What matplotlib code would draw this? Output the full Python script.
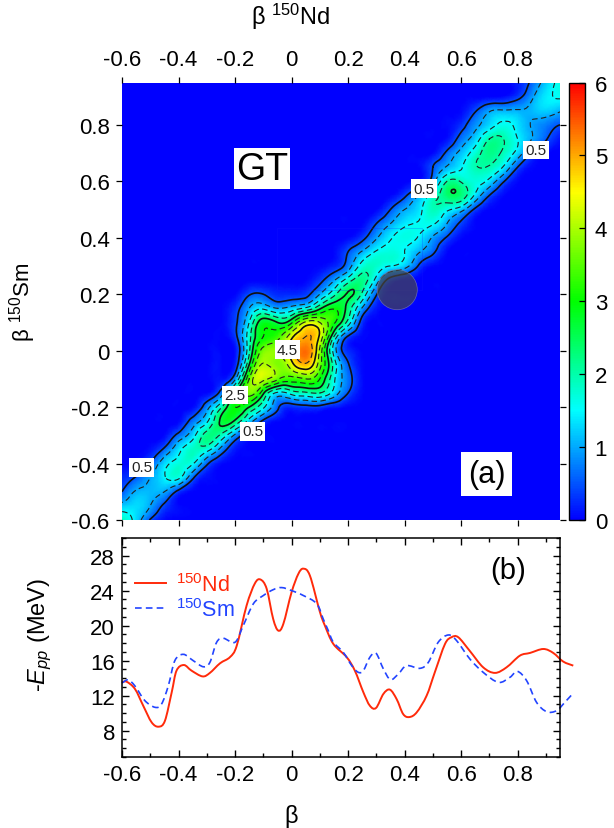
import numpy as np
import matplotlib
matplotlib.use("Agg")
import matplotlib.pyplot as plt
import matplotlib.tri as mtri
from matplotlib.colors import LinearSegmentedColormap
from matplotlib.patches import Circle, Rectangle, PathPatch
from matplotlib.path import Path
from matplotlib.cm import ScalarMappable
from matplotlib.ticker import MultipleLocator

plt.rcParams["font.family"] = ["Liberation Sans", "DejaVu Sans"]
plt.rcParams["mathtext.fontset"] = "custom"
plt.rcParams["mathtext.rm"] = "Liberation Sans"
plt.rcParams["mathtext.it"] = "Liberation Sans:italic"
plt.rcParams["mathtext.default"] = "regular"

# panel (a): overlap, (y, first x, values every 0.05 from there)
grid_x = np.arange(32) * 0.05 - 0.6
grid_y = np.arange(32) * 0.05 - 0.6
rows = [
    (0.95, 0.80, [.2, .6, 1.2, 1.65]),
    (0.90, 0.75, [.05, .35, .9, 1.4, 1.55]),
    (0.85, 0.60, [.05, .45, .95, 1.05, 1.05, 1.1, 1.25, 1.05]),
    (0.80, 0.55, [.05, .3, .85, 1.3, 1.6, 1.35, .97, .75, .5]),
    (0.75, 0.55, [.1, .7, 1.25, 2.0, 2.0, 1.5, 1.0, .55, .1]),
    (0.70, 0.50, [.05, .6, 1.15, 1.75, 2.2, 1.9, 1.3, .45, .05]),
    (0.65, 0.45, [.03, .5, 1.05, 1.45, 1.95, 1.95, 1.45, .5, .05]),
    (0.60, 0.45, [.1, .75, 2.0, 1.95, 1.7, 1.35, .55, .05]),
    (0.55, 0.35, [.03, .4, 1.0, 1.7, 2.33, 2.3, 1.4, .5, .05]),
    (0.50, 0.30, [.03, .5, 1.0, 1.35, 1.9, 1.6, 1.2, .4, .03]),
    (0.45, 0.25, [.03, .5, 1.0, 1.4, 1.55, 1.55, 1.0, .4, .03]),
    (0.40, 0.20, [.03, .35, .95, 1.45, 1.65, 1.45, .95, .45, .05]),
    (0.35, 0.15, [.03, .5, 1.05, 1.55, 1.7, 1.5, 1.05, .6, .05]),
    (0.30, 0.10, [.03, .2, .75, 1.7, 1.8, 1.5, 1.2, .45, .05]),
    (0.25, 0.05, [.03, .35, .95, 1.75, 2.2, 1.3, .3, .03]),
    (0.20, -0.20, [.03, .45, .5, .25, .25, .35, 1.0, 1.85, 2.55, 1.9, .55, .05]),
    (0.15, -0.25, [.02, .3, 1.0, 1.4, 1.0, 1.2, 1.6, 2.4, 2.95, 2.3, .95, .15]),
    (0.10, -0.25, [.02, .4, 1.5, 2.8, 2.5, 2.9, 4.1, 4.0, 3.1, 1.8, .3, .02]),
    (0.05, -0.25, [.02, .35, 1.8, 3.0, 3.3, 4.35, 5.0, 4.4, 2.0, .45, .05]),
    (0.00, -0.25, [.02, .1, 1.9, 3.7, 3.9, 4.75, 5.35, 3.9, 1.3, .25, .02]),
    (-0.05, -0.25, [.05, .2, 2.5, 4.05, 3.75, 4.3, 4.9, 3.7, 1.8, .55, .05]),
    (-0.10, -0.25, [.1, .9, 3.5, 4.15, 3.6, 3.3, 3.5, 3.0, 1.6, .7, .08]),
    (-0.15, -0.30, [.03, .7, 2.5, 3.7, 2.6, 1.4, 1.7, 1.9, 2.0, 1.3, .5, .05]),
    (-0.20, -0.35, [.05, .8, 1.9, 3.0, 2.5, 1.6, .6, .25, .35, .35, .15, .02]),
    (-0.25, -0.40, [.03, .7, 1.4, 2.6, 2.4, 1.3, .4, .05]),
    (-0.30, -0.45, [.05, .65, 1.3, 2.2, 1.9, .9, .2, .02]),
    (-0.35, -0.50, [.1, .6, 1.35, 1.85, 1.7, .85, .15, .02]),
    (-0.40, -0.55, [.1, .55, 1.3, 1.7, 1.55, .6, .08]),
    (-0.45, -0.60, [.25, .55, 1.0, 1.45, 1.6, .6, .08]),
    (-0.50, -0.60, [.5, 1.05, 1.1, 1.0, .35, .03]),
    (-0.55, -0.60, [1.2, 1.3, 1.0, .4, .05]),
    (-0.60, -0.60, [1.9, 1.3, .45, .05]),
]
solid_levels = [0.5, 2.5, 4.5]
dashed_levels = [1.0, 1.5, 2.0, 3.0, 3.5, 4.0, 5.0]
label_x = [-0.53, -0.2, -0.014, -0.138, 0.469, 0.865]
label_y = [-0.414, -0.158, 0.004, -0.286, 0.574, 0.711]
label_text = ["0.5", "2.5", "4.5", "0.5", "0.5", "0.5"]

# panel (b)
nd_x = [-.6, -.584, -.554, -.525, -.495, -.47, -.448, -.424, -.407, -.381, -.354, -.315, -.289, -.253,
        -.218, -.194, -.159, -.13, -.11, -.088, -.065, -.047, -.029, 0, .024, .042, .065, .1, .118, .148,
        .195, .224, .254, .277, .299, .325, .348, .372, .395, .417, .443, .478, .507, .543, .566, .59,
        .631, .678, .72, .761, .808, .844, .891, .926, .961, .997]
nd_y = [13.5, 13.6, 12.76, 10.86, 8.95, 8.46, 9.14, 12.4, 14.86, 15.5, 14.86, 14.2, 14.6, 15.7,
        16.4, 17.7, 22.3, 24.8, 25.26, 24.2, 20.76, 19.43, 20.2, 23.8, 25.9, 26.5, 25.7, 21.6, 20.0, 17.9,
        16.4, 14.86, 12.4, 10.86, 10.6, 12.2, 12.69, 11.6, 9.9, 9.56, 10.1, 12.0, 14.67, 17.9, 18.67, 18.67,
        17.1, 15.24, 14.6, 15.24, 16.57, 16.88, 17.33, 16.88, 15.9, 15.43]
sm_x = [-.6, -.578, -.554, -.519, -.483, -.46, -.436, -.413, -.383, -.348, -.312, -.289, -.265, -.241,
        -.2, -.171, -.135, -.1, -.065, -.035, 0, .042, .089, .112, .13, .148, .183, .213, .236, .254,
        .277, .299, .325, .35, .378, .407, .454, .484, .519, .555, .584, .631, .678, .732, .773, .799,
        .832, .867, .903, .938, .967, .997]
sm_y = [13.45, 13.8, 13.1, 11.43, 10.67, 11.05, 13.14, 16.0, 16.72, 16.0, 15.3, 15.8, 18.1, 18.55,
        18.1, 20.0, 22.5, 23.43, 24.1, 24.34, 24.0, 23.43, 22.5, 20.76, 19.43, 18.1, 16.95, 15.43, 14.67, 14.86,
        16.38, 16.84, 15.05, 13.83, 14.48, 15.43, 15.12, 15.8, 18.1, 18.93, 18.29, 16.19, 14.67, 13.52, 14.1, 14.78,
        13.71, 11.24, 10.17, 10.29, 11.24, 12.3]

W, H = 614, 829
fig = plt.figure(figsize=(W / 100, H / 100), dpi=100)


def px_axes(left, top, right, bottom):
    return fig.add_axes([left / W, 1 - bottom / H, (right - left) / W, (bottom - top) / H])


def curve_through(xs, ys):
    # bezier path passing through every read point
    p = np.column_stack([xs, ys])
    verts = [p[0]]
    codes = [Path.MOVETO]
    for k in range(len(p) - 1):
        a = p[max(k - 1, 0)]
        d = p[min(k + 2, len(p) - 1)]
        verts += [p[k] + (p[k + 1] - a) / 6, p[k + 1] - (d - p[k]) / 6, p[k + 1]]
        codes += [Path.CURVE4] * 3
    return Path(verts, codes)


cmap = LinearSegmentedColormap.from_list("gt", ["#0000ff", "#00ffff", "#00ff00", "#ffff00", "#ff0000"])

field = np.zeros((32, 32))
for y0, x0, vals in rows:
    j = int(round((y0 + 0.6) / 0.05))
    i = int(round((x0 + 0.6) / 0.05))
    field[j, i:i + len(vals)] = vals

# panel (a) - smooth surface through the read values
ax = px_axes(122, 83.5, 560, 521)
gx, gy = np.meshgrid(grid_x, grid_y)
tri = mtri.Triangulation(gx.ravel(), gy.ravel())
fine_tri, fine_z = mtri.UniformTriRefiner(tri).refine_field(field.ravel(), subdiv=3)
fine_z = np.clip(fine_z, 0, None)
ax.tripcolor(fine_tri, fine_z, shading="gouraud", cmap=cmap, vmin=0, vmax=6, rasterized=True)
ax.tricontour(fine_tri, fine_z, levels=solid_levels, colors="#111111", linewidths=1.2)
ax.tricontour(fine_tri, fine_z, levels=dashed_levels, colors="#222222", linewidths=0.8,
              linestyles=[(0, (5, 3))])
ax.add_patch(Circle((0.374, 0.216), 0.071, facecolor="#484848", edgecolor="#8888aa", alpha=0.69, lw=0.5, zorder=3))
ax.add_patch(Rectangle((-0.051, 0.216), 0.513, 0.218, fill=False, edgecolor="#1a1aff", lw=0.4, alpha=0.4, zorder=2))
ax.set_xlim(-0.6, 0.95)
ax.set_ylim(-0.6, 0.95)
ax.set_xticks(np.arange(-0.6, 0.81, 0.2))
ax.set_yticks(np.arange(-0.6, 0.81, 0.2))
ax.set_xticklabels(["-0.6", "-0.4", "-0.2", "0", "0.2", "0.4", "0.6", "0.8"])
ax.set_yticklabels(["-0.6", "-0.4", "-0.2", "0", "0.2", "0.4", "0.6", "0.8"])
ax.tick_params(top=True, bottom=True, left=True, right=True, labeltop=True, labelbottom=False,
               direction="out", length=4, width=0.9, labelsize=16, pad=5)
for s in ax.spines.values():
    s.set_visible(False)
ax.xaxis.set_label_position("top")
ax.set_xlabel(r"$\beta$ $^{150}$Nd", fontsize=17, labelpad=18)
ax.xaxis.label.set_x((291 - 122) / 438)
ax.set_ylabel(r"$\beta$ $^{150}$Sm", fontsize=16, labelpad=24)
for lx, ly, lt in zip(label_x, label_y, label_text):
    ax.text(lx, ly, lt, fontsize=11, ha="center", va="center", color="#222222", zorder=5,
            bbox=dict(facecolor="white", edgecolor="none", pad=1.5))
ax.text(-0.105, 0.645, "GT", fontsize=27, ha="center", va="center", zorder=5,
        bbox=dict(facecolor="white", edgecolor="none", pad=1.5))
ax.text(0.69, -0.436, "(a)", fontsize=22, ha="center", va="center", zorder=5,
        bbox=dict(facecolor="white", edgecolor="none", pad=5))

# colour bar
cax = px_axes(569, 83.5, 585, 521)
cb = fig.colorbar(ScalarMappable(cmap=cmap, norm=plt.Normalize(0, 6)), cax=cax)
cb.set_ticks(range(7))
cb.ax.tick_params(direction="in", length=4, width=0.9, labelsize=16, pad=7)
cb.outline.set_linewidth(1.0)

# panel (b)
nd_color = "#ff2a0a"
sm_color = "#2244ff"
sm_dash = (0, (4, 2.5))
ax2 = px_axes(122, 539, 560, 758)
ax2.add_patch(PathPatch(curve_through(nd_x, nd_y), fill=False, edgecolor=nd_color, lw=1.4, clip_on=False))
ax2.add_patch(PathPatch(curve_through(sm_x, sm_y), fill=False, edgecolor=sm_color, lw=1.2, ls=sm_dash, clip_on=False))
ax2.plot([], [], color=nd_color, lw=1.4, label=r"$^{150}$Nd")
ax2.plot([], [], color=sm_color, lw=1.2, ls=sm_dash, label=r"$^{150}$Sm")
ax2.set_xlim(-0.6, 0.95)
ax2.set_ylim(5, 30)
ax2.set_xticks(np.arange(-0.6, 0.81, 0.2))
ax2.set_xticklabels(["-0.6", "-0.4", "-0.2", "0", "0.2", "0.4", "0.6", "0.8"])
ax2.set_yticks(np.arange(8, 29, 4))
ax2.xaxis.set_minor_locator(MultipleLocator(0.1))
ax2.yaxis.set_minor_locator(MultipleLocator(1))
ax2.tick_params(which="both", top=True, right=True, direction="in", width=1.0)
ax2.tick_params(which="major", length=5, labelsize=16, pad=5)
ax2.tick_params(which="minor", length=3)
ax2.set_xlabel(r"$\beta$", fontsize=17, labelpad=12)
ax2.xaxis.label.set_x((291 - 122) / 438)
ax2.set_ylabel(r"-$\mathit{E}_{\mathit{pp}}$ (MeV)", fontsize=17, labelpad=26)
ax2.yaxis.label.set_y((758 - 635) / 219)
for s in ax2.spines.values():
    s.set_linewidth(1.1)
leg = ax2.legend(loc="upper left", bbox_to_anchor=(0.03, 0.84), frameon=False, fontsize=15.5,
                 labelcolor="linecolor", handlelength=1.45, handletextpad=0.45, labelspacing=0.1, borderpad=0,
                 borderaxespad=0)
ax2.text(0.765, 26.3, "(b)", fontsize=21, ha="center", va="center")

fig.savefig("out.png", dpi=100)
